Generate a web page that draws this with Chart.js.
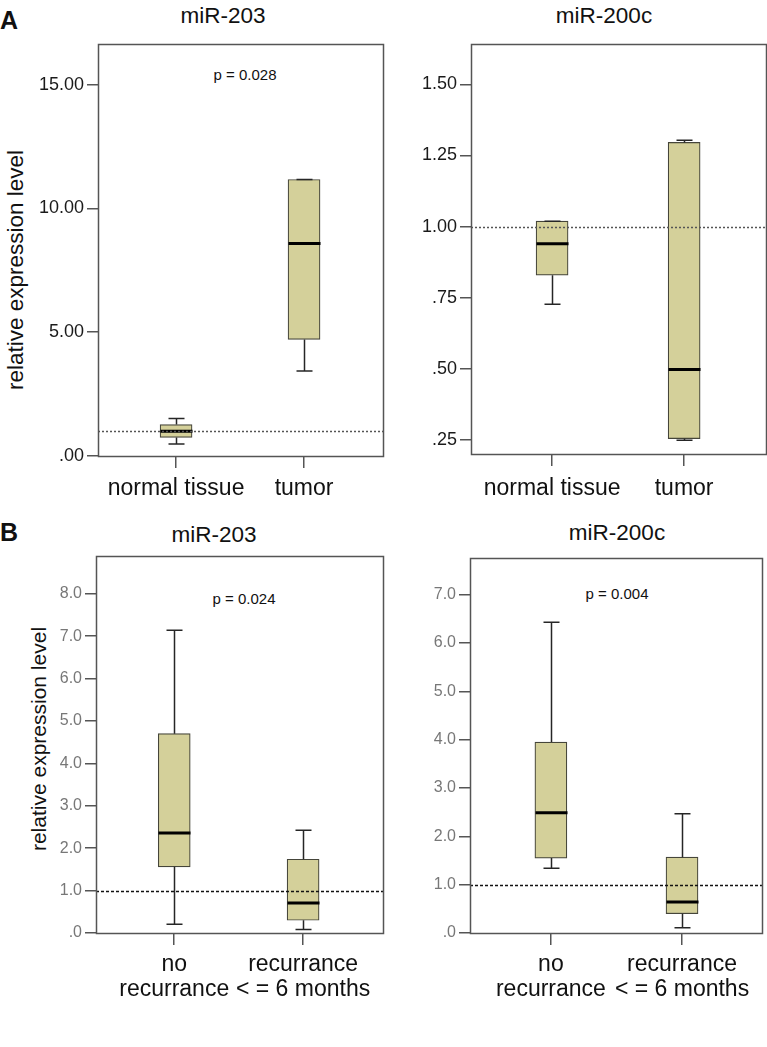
<!DOCTYPE html>
<html>
<head>
<meta charset="utf-8">
<script src="https://cdn.jsdelivr.net/npm/chart.js@4.4.1/dist/chart.umd.min.js"></script>
<style>
  body { margin: 0; background: #fff; font-family: 'Liberation Sans', Arial, sans-serif; }
  #wrap { position: relative; width: 767px; height: 1047px; overflow: hidden; background: #fff; }
  #wrap canvas { position: absolute; }
  .t { position: absolute; transform: translate(-50%, -50%); white-space: nowrap; line-height: 1; color: #111; }
  .ttl { font-size: 22.5px; }
  .pv { font-size: 15px; }
  .lab { font-size: 25px; font-weight: bold; transform: none; }
  .yt { font-size: 22.5px; transform: translate(-50%, -50%) rotate(-90deg); }
</style>
</head>
<body>
<div id="wrap">
  <div class="t lab" style="left:0px;top:8px;">A</div>
  <div class="t lab" style="left:0px;top:520px;">B</div>

  <div class="t ttl" style="left:223px;top:16px;">miR-203</div>
  <div class="t ttl" style="left:604px;top:16px;">miR-200c</div>
  <div class="t ttl" style="left:214px;top:535px;">miR-203</div>
  <div class="t ttl" style="left:617px;top:533px;">miR-200c</div>

  <div class="t pv" style="left:245px;top:74px;">p = 0.028</div>
  <div class="t pv" style="left:244px;top:598px;">p = 0.024</div>
  <div class="t pv" style="left:617px;top:593px;">p = 0.004</div>

  <div class="t yt" style="left:16px;top:270px;">relative expression level</div>
  <div class="t yt" style="left:38px;top:739px;font-size:21px;">relative expression level</div>

  <canvas id="cA1" width="390" height="475" style="left:0px;top:30px;"></canvas>
  <canvas id="cA2" width="377" height="475" style="left:390px;top:30px;"></canvas>
  <canvas id="cB1" width="390" height="507" style="left:0px;top:540px;"></canvas>
  <canvas id="cB2" width="377" height="507" style="left:390px;top:540px;"></canvas>
</div>

<script>
/* ── Data ────────────────────────────────────────────────── */
const CAT_X = [1, 2];
const labelsA = ['normal tissue', 'tumor'];
const labelsB = [['no', 'recurrance'], ['recurrance', '< = 6 months']];

// five-number summaries: [min, q1, median, q3, max]
const a203Normal  = [0.48, 0.75, 1.00, 1.27, 1.51];
const a203Tumor   = [3.43, 4.71, 8.58, 11.17, 11.17];
const a200cNormal = [0.727, 0.829, 0.94, 1.019, 1.019];
const a200cTumor  = [0.248, 0.254, 0.497, 1.296, 1.304];
const b203NoRec   = [0.205, 1.56, 2.36, 4.70, 7.14];
const b203Rec     = [0.08, 0.30, 0.71, 1.74, 2.42];
const b200cNoRec  = [1.34, 1.55, 2.49, 3.95, 6.43];
const b200cRec    = [0.11, 0.40, 0.64, 1.57, 2.47];

const refLevel = 1;

const ticksA203  = [0, 5, 10, 15];
const tlabA203   = ['.00', '5.00', '10.00', '15.00'];
const ticksA200c = [0.25, 0.5, 0.75, 1.0, 1.25, 1.5];
const tlabA200c  = ['.25', '.50', '.75', '1.00', '1.25', '1.50'];
const ticksB203  = [0, 1, 2, 3, 4, 5, 6, 7, 8];
const tlabB203   = ['.0', '1.0', '2.0', '3.0', '4.0', '5.0', '6.0', '7.0', '8.0'];
const ticksB200c = [0, 1, 2, 3, 4, 5, 6, 7];
const tlabB200c  = ['.0', '1.0', '2.0', '3.0', '4.0', '5.0', '6.0', '7.0'];

/* ── Style ───────────────────────────────────────────────── */
const FONT = "'Liberation Sans', Arial, sans-serif";
const BOX_FILL = '#d4d09a';
const BOX_EDGE = '#45453a';
const FRAME = '#555555';
const BOX_W = 32;

/* ── Whiskers, medians, reference line, frame ───────────── */
const boxExtras = {
  id: 'boxExtras',
  afterDatasetsDraw(chart, args, opts) {
    const { ctx, chartArea: a, scales: { x, y } } = chart;
    const py = v => y.getPixelForValue(v);
    ctx.save();
    opts.boxes.forEach((b, i) => {
      const cx = Math.round(x.getPixelForValue(CAT_X[i])) + 0.5;
      const half = BOX_W / 2;
      ctx.strokeStyle = '#262626';
      ctx.lineWidth = 1.5;
      ctx.beginPath();
      ctx.moveTo(cx, py(b[0])); ctx.lineTo(cx, py(b[1]));
      ctx.moveTo(cx, py(b[3])); ctx.lineTo(cx, py(b[4]));
      ctx.moveTo(cx - half / 2, py(b[0])); ctx.lineTo(cx + half / 2, py(b[0]));
      ctx.moveTo(cx - half / 2, py(b[4])); ctx.lineTo(cx + half / 2, py(b[4]));
      ctx.stroke();
      ctx.strokeStyle = '#000';
      ctx.lineWidth = 3;
      ctx.beginPath();
      ctx.moveTo(cx - half, py(b[2])); ctx.lineTo(cx + half, py(b[2]));
      ctx.stroke();
    });
    // reference line at 1
    const ry = Math.round(py(refLevel)) + 0.5;
    ctx.strokeStyle = opts.dashColor;
    ctx.lineWidth = 1.3;
    ctx.setLineDash(opts.dash);
    ctx.beginPath();
    ctx.moveTo(a.left, ry); ctx.lineTo(a.right, ry);
    ctx.stroke();
    ctx.setLineDash([]);
    // frame
    ctx.strokeStyle = FRAME;
    ctx.lineWidth = 1.5;
    ctx.strokeRect(Math.round(a.left) + 0.5, Math.round(a.top) + 0.5,
                   Math.round(a.right - a.left), Math.round(a.bottom - a.top));
    ctx.restore();
  }
};

/* ── Panel builder ───────────────────────────────────────── */
function makePanel(id, boxes, catLabels, ticks, tickLabels, yMin, yMax, g) {
  const ctx = document.getElementById(id).getContext('2d');
  return new Chart(ctx, {
    type: 'bar',
    data: {
      datasets: [{
        data: boxes.map((b, i) => ({ x: CAT_X[i], y: [b[1], b[3]] })),
        backgroundColor: BOX_FILL,
        borderColor: BOX_EDGE,
        borderWidth: 1.2,
        borderSkipped: false,
        barThickness: BOX_W,
      }],
    },
    options: {
      responsive: false,
      animation: false,
      layout: { padding: g.pad },
      plugins: {
        legend: { display: false },
        tooltip: { enabled: false },
        boxExtras: { boxes, dash: g.dash, dashColor: g.dashColor },
      },
      scales: {
        x: {
          type: 'linear',
          offset: false,
          min: g.xMin, max: g.xMax,
          afterBuildTicks: s => { s.ticks = CAT_X.map(v => ({ value: v })); },
          afterFit: s => { s.height = g.xH; },
          ticks: {
            callback: v => catLabels[CAT_X.indexOf(v)],
            font: { family: FONT, size: 23, lineHeight: 1.05 },
            color: '#111',
            maxRotation: 0, minRotation: 0, autoSkip: false,
            padding: g.xPad,
          },
          grid: { offset: false, drawOnChartArea: false, tickLength: 12, color: FRAME, lineWidth: 1.5 },
          border: { display: false },
        },
        y: {
          min: yMin, max: yMax,
          afterBuildTicks: s => { s.ticks = ticks.map(v => ({ value: v })); },
          afterFit: s => { s.width = g.yW; },
          ticks: {
            callback: v => tickLabels[ticks.indexOf(v)],
            font: { family: FONT, size: g.tickSize },
            color: g.tickColor,
            autoSkip: false,
            padding: 3,
          },
          grid: { drawOnChartArea: false, tickLength: 11, color: FRAME, lineWidth: 1.5 },
          border: { display: false },
        },
      },
    },
    plugins: [boxExtras],
  });
}

/* ── Init ────────────────────────────────────────────────── */
makePanel('cA1', [a203Normal, a203Tumor], labelsA, ticksA203, tlabA203, 0, 16.65, {
  pad: { left: 0, top: 8, right: 7, bottom: 0 }, yW: 98, xH: 49,
  xMin: 0.39, xMax: 2.617, xPad: 9, tickSize: 18, tickColor: '#1a1a1a',
  dash: [2, 2], dashColor: '#555',
});
makePanel('cA2', [a200cNormal, a200cTumor], labelsA, ticksA200c, tlabA200c, 0.2, 1.643, {
  pad: { left: 0, top: 11, right: 1, bottom: 0 }, yW: 81, xH: 51,
  xMin: 0.386, xMax: 2.62, xPad: 11, tickSize: 18, tickColor: '#1a1a1a',
  dash: [2, 2], dashColor: '#555',
});
makePanel('cB1', [b203NoRec, b203Rec], labelsB, ticksB203, tlabB203, 0, 8.89, {
  pad: { left: 0, top: 16, right: 7, bottom: 0 }, yW: 96, xH: 114,
  xMin: 0.393, xMax: 2.62, xPad: 8, tickSize: 16, tickColor: '#777',
  dash: [3, 2], dashColor: '#111',
});
makePanel('cB2', [b200cNoRec, b200cRec], labelsB, ticksB200c, tlabB200c, 0, 7.76, {
  pad: { left: 0, top: 18, right: 5, bottom: 0 }, yW: 80, xH: 114,
  xMin: 0.383, xMax: 2.61, xPad: 8, tickSize: 16, tickColor: '#777',
  dash: [3, 2], dashColor: '#111',
});
</script>
</body>
</html>
